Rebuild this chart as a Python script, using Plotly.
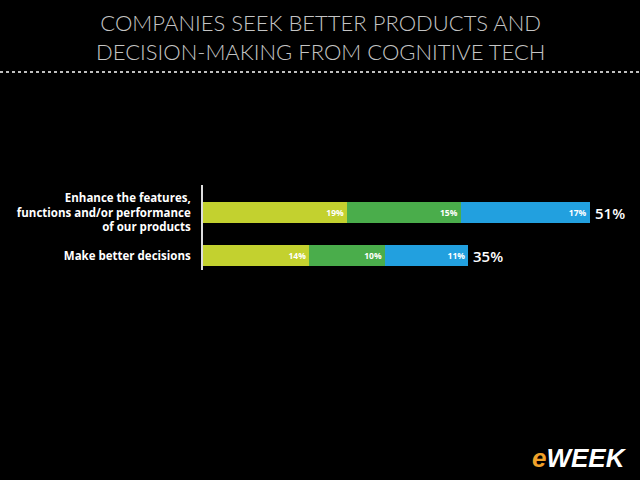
import plotly.graph_objects as go

categories = ["Make better decisions", "Enhance the features,<br>functions and/or performance<br>of our products"]
seg1 = [14, 19]
seg2 = [10, 15]
seg3 = [11, 17]
totals = [35, 51]
colors = ["#c3d12f", "#4aad4b", "#22a0df"]

L, R, T, B = 203, 0, 185, 210
W, H = 640, 480
pw = W - L - R
ph = H - T - B
xmax = pw / 7.58

fig = go.Figure()
for vals, c in zip([seg1, seg2, seg3], colors):
    fig.add_trace(go.Bar(
        y=categories, x=vals, orientation="h", marker=dict(color=c, line=dict(width=0)),
        text=[f"{v}%" for v in vals], textposition="inside", insidetextanchor="end",
        textfont=dict(family="Open Sans", size=8.5, color="white", weight="bold"),
        constraintext="none", showlegend=False, hoverinfo="skip"))

for cat, t in zip(categories, totals):
    fig.add_annotation(x=t, y=cat, text=f"{t}%", showarrow=False, xanchor="left", xshift=3,
                       font=dict(family="Open Sans", size=15, color="white", weight=600))

fig.add_annotation(xref="paper", yref="paper", x=(W / 2 - L) / pw, y=(H - 37 - B) / ph,
                   text="COMPANIES SEEK BETTER PRODUCTS AND<br>DECISION-MAKING FROM COGNITIVE TECH",
                   showarrow=False, xanchor="center", yanchor="middle",
                   font=dict(family="Lato", size=22, color="#c4c4c4", weight=300))

fig.add_shape(type="line", xref="paper", yref="paper", x0=-L / pw, x1=1, y0=(H - 72 - B) / ph, y1=(H - 72 - B) / ph,
              line=dict(color="white", width=1.5, dash="dot"))

fig.add_annotation(xref="paper", yref="paper", x=(629 - L) / pw, y=(H - 458 - B) / ph,
                   text="<i><b><span style='color:#f0a22a'>e</span>WEEK</b></i>",
                   showarrow=False, xanchor="right", yanchor="middle",
                   font=dict(family="Liberation Sans", size=26, color="white"))

fig.update_layout(
    width=W, height=H, margin=dict(l=L, r=R, t=T, b=B),
    paper_bgcolor="black", plot_bgcolor="black", barmode="stack", bargap=0.51,
    xaxis=dict(range=[0, xmax], visible=False),
    yaxis=dict(range=[-0.337, 1.64], showgrid=False, showline=True, linecolor="#dddddd", linewidth=2,
               ticks="", ticklabelstandoff=8,
               tickfont=dict(family="Open Sans", size=11.5, color="white", weight="bold")),
)
fig.write_html("out.html")
